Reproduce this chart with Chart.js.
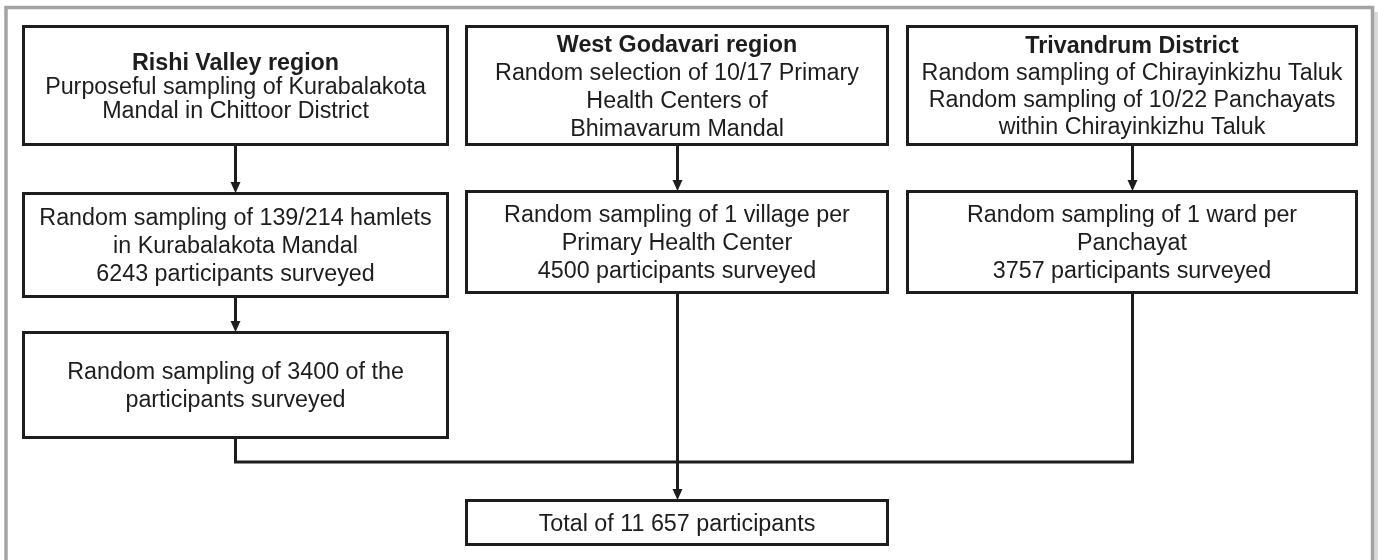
<!DOCTYPE html>
<html>
<head>
<meta charset="utf-8">
<script src="https://cdn.jsdelivr.net/npm/chart.js@4"></script>
<style>
  html, body { margin: 0; padding: 0; background: #fff; }
  #wrap { width: 1378px; height: 560px; }
</style>
</head>
<body>
<div id="wrap"><canvas id="flow" width="1378" height="560"></canvas></div>
<script>
// study sites (bold headings of the first row)
const siteTitles = ['Rishi Valley region', 'West Godavari region', 'Trivandrum District'];

// text of every step, in reading order
const stepLines = [
    ['Purposeful sampling of Kurabalakota', 'Mandal in Chittoor District'],
    ['Random selection of 10/17 Primary', 'Health Centers of', 'Bhimavarum Mandal'],
    ['Random sampling of Chirayinkizhu Taluk', 'Random sampling of 10/22 Panchayats', 'within Chirayinkizhu Taluk'],
    ['Random sampling of 139/214 hamlets', 'in Kurabalakota Mandal', '6243 participants surveyed'],
    ['Random sampling of 1 village per', 'Primary Health Center', '4500 participants surveyed'],
    ['Random sampling of 1 ward per', 'Panchayat', '3757 participants surveyed'],
    ['Random sampling of 3400 of the', 'participants surveyed'],
    ['Total of 11 657 participants']
];

// layout in axis units (x: 0..1378, y: 0..560, top down)
const boxLayout = [
    { x0: 23,  y0: 26,  x1: 447,  y1: 144, gap: 24 },
    { x0: 466, y0: 26,  x1: 887,  y1: 144, gap: 28 },
    { x0: 907, y0: 26,  x1: 1356, y1: 144, gap: 27 },
    { x0: 23,  y0: 193, x1: 447,  y1: 296, gap: 28 },
    { x0: 466, y0: 191, x1: 887,  y1: 292, gap: 28 },
    { x0: 907, y0: 191, x1: 1356, y1: 292, gap: 28 },
    { x0: 23,  y0: 332, x1: 447,  y1: 437, gap: 28 },
    { x0: 466, y0: 500, x1: 887,  y1: 544, gap: 28 }
];

const connectors = [
    { pts: [[235, 144], [235, 193]], head: true },
    { pts: [[677, 144], [677, 191]], head: true },
    { pts: [[1132, 144], [1132, 191]], head: true },
    { pts: [[235, 296], [235, 332]], head: true },
    { pts: [[235, 437], [235, 462], [1132, 462], [1132, 292]], head: false },
    { pts: [[677, 292], [677, 500]], head: true }
];

const INK = '#1f1c1d';
const FONT = '"Liberation Sans", Arial, sans-serif';

const flowPlugin = {
    id: 'flowDiagram',
    afterDraw(chart) {
        const ctx = chart.ctx;
        const sx = chart.scales.x, sy = chart.scales.y;
        const px = v => sx.getPixelForValue(v);
        const py = v => sy.getPixelForValue(v);

        ctx.save();
        // outer grey frame (runs off the bottom) with a faint shadow on the right
        ctx.fillStyle = '#dcd9d6';
        ctx.fillRect(px(1374), py(12), px(1378) - px(1374), py(560) - py(12));
        ctx.strokeStyle = '#a3a3a3';
        ctx.lineWidth = 3.5;
        ctx.strokeRect(px(6), py(7.5), px(1372.5) - px(6), py(620) - py(7.5));

        ctx.strokeStyle = INK;
        ctx.fillStyle = INK;
        ctx.lineWidth = 3;
        ctx.lineJoin = 'miter';

        // connectors
        connectors.forEach(c => {
            ctx.beginPath();
            c.pts.forEach((p, i) => {
                const X = Math.round(px(p[0])) + 0.5, Y = Math.round(py(p[1]));
                const endY = (c.head && i === c.pts.length - 1) ? Y - 8 : Y;
                if (i === 0) ctx.moveTo(X, endY); else ctx.lineTo(X, endY);
            });
            ctx.stroke();
            if (c.head) {
                const last = c.pts[c.pts.length - 1];
                const X = Math.round(px(last[0])) + 0.5, Y = Math.round(py(last[1]));
                ctx.beginPath();
                ctx.moveTo(X, Y);
                ctx.lineTo(X - 5, Y - 11);
                ctx.lineTo(X + 5, Y - 11);
                ctx.closePath();
                ctx.fill();
            }
        });

        // boxes and their text
        boxLayout.forEach((b, i) => {
            const x0 = Math.round(px(b.x0)) + 0.5, y0 = Math.round(py(b.y0)) + 0.5;
            const x1 = Math.round(px(b.x1)) + 0.5, y1 = Math.round(py(b.y1)) + 0.5;
            ctx.fillStyle = '#fff';
            ctx.fillRect(x0, y0, x1 - x0, y1 - y0);
            ctx.strokeStyle = INK;
            ctx.strokeRect(x0, y0, x1 - x0, y1 - y0);

            const lines = [];
            if (siteTitles[i]) lines.push({ t: siteTitles[i], bold: true });
            stepLines[i].forEach(t => lines.push({ t, bold: false }));

            const cx = (x0 + x1) / 2, cy = (y0 + y1) / 2;
            const first = cy - (lines.length - 1) * b.gap / 2;
            ctx.fillStyle = INK;
            ctx.textAlign = 'center';
            ctx.textBaseline = 'alphabetic';
            lines.forEach((ln, k) => {
                ctx.font = (ln.bold ? 'bold ' : '') + '23.3px ' + FONT;
                ctx.fillText(ln.t, cx, first + k * b.gap + 8);
            });
        });
        ctx.restore();
    }
};

new Chart(document.getElementById('flow').getContext('2d'), {
    type: 'scatter',
    data: { datasets: [{ data: [], pointRadius: 0 }] },
    options: {
        responsive: false,
        animation: false,
        devicePixelRatio: 1,
        layout: { padding: 0 },
        plugins: { legend: { display: false }, tooltip: { enabled: false } },
        scales: {
            x: { type: 'linear', min: 0, max: 1378, display: false },
            y: { type: 'linear', min: 0, max: 560, reverse: true, display: false }
        }
    },
    plugins: [flowPlugin]
});
</script>
</body>
</html>
